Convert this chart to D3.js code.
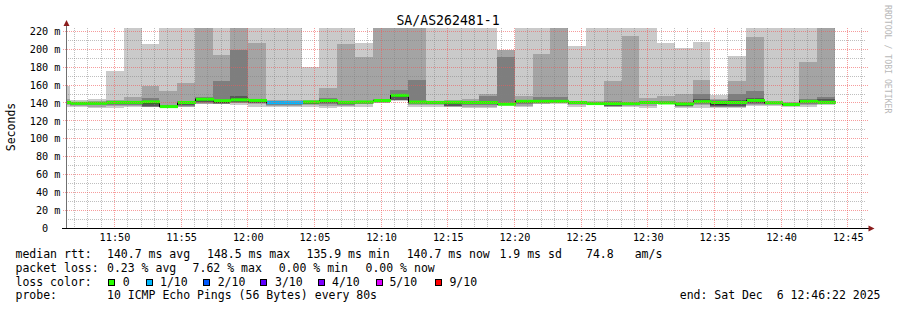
<!DOCTYPE html>
<html>
<head>
<meta charset="utf-8">
<script src="https://cdn.jsdelivr.net/npm/d3@7"></script>
<style>
  body { margin: 0; background: #fff; }
  text { font-family: "DejaVu Sans Mono", monospace; white-space: pre; }
</style>
</head>
<body>
<svg id="chart" width="897" height="310"></svg>
<script>

// ---- data ---------------------------------------------------------------

var title = 'SA/AS262481-1';
var day = '2025-12-06 ';
var viewStart = '11:46:22';
var viewEnd = '12:46:22';
var firstStep = '11:45:22';
var stepSeconds = 80;

// 10 sorted ping rtts (ms) per 80s step; values above the chart are clipped.
var pings = [
  [136.0, 137.5, 138.5, 139.5, 140.0, 140.5, 141.0, 142.0, 144.0, 159.0],
  [135.5, 136.5, 137.5, 138.5, 139.0, 139.6, 140.5, 141.0, 141.5, 143.0],
  [134.7, 136.0, 137.5, 138.5, 139.0, 139.6, 140.5, 141.0, 142.0, 144.4],
  [134.7, 137.0, 138.0, 139.0, 140.0, 140.6, 141.0, 142.0, 143.5, 175.8],
  [135.0, 136.5, 137.5, 138.5, 139.5, 140.6, 141.5, 142.5, 147.0, 262.0],
  [135.0, 135.5, 136.0, 136.5, 138.5, 141.2, 142.0, 145.5, 159.0, 206.0],
  [134.5, 135.0, 135.3, 135.6, 135.9, 136.2, 137.0, 138.0, 153.5, 245.0],
  [135.0, 136.0, 136.6, 137.5, 138.8, 140.5, 141.0, 142.0, 162.5, 250.0],
  [138.5, 139.0, 139.6, 141.0, 142.5, 144.1, 145.0, 147.0, 250.0, 260.0],
  [138.5, 139.0, 139.2, 139.4, 139.8, 142.5, 143.5, 164.8, 193.7, 250.0],
  [138.0, 139.5, 140.0, 141.0, 142.0, 143.5, 147.8, 199.3, 250.0, 262.0],
  [135.0, 138.5, 139.5, 140.0, 140.5, 142.8, 143.5, 144.0, 206.7, 255.0],
  [135.0, 136.5, 137.5, 138.5, 139.5, 140.3, 141.0, 142.0, 143.0, 250.0],
  [135.5, 137.0, 138.0, 138.5, 139.5, 140.3, 141.0, 141.5, 143.5, 252.0],
  [135.8, 137.5, 138.5, 139.0, 139.5, 141.1, 141.5, 142.0, 143.0, 180.0],
  [134.5, 136.5, 138.5, 139.5, 141.0, 142.5, 143.5, 145.0, 156.6, 255.0],
  [135.5, 137.0, 138.0, 139.0, 140.0, 140.7, 141.5, 142.0, 206.0, 258.0],
  [135.5, 138.5, 139.0, 139.5, 140.0, 141.1, 141.5, 142.0, 191.8, 207.2],
  [139.5, 140.0, 140.5, 141.0, 141.5, 142.7, 143.5, 144.0, 250.0, 262.0],
  [142.5, 142.8, 143.0, 143.3, 146.7, 148.5, 149.3, 154.5, 250.0, 262.0],
  [135.8, 137.5, 139.0, 140.0, 140.5, 141.0, 142.0, 165.7, 250.0, 260.0],
  [135.8, 137.5, 138.5, 139.0, 139.5, 140.6, 141.0, 141.5, 142.5, 255.0],
  [135.0, 136.0, 136.6, 137.0, 139.2, 140.7, 141.5, 142.0, 143.3, 258.0],
  [134.7, 136.0, 138.0, 139.0, 139.8, 140.5, 141.0, 141.5, 144.4, 255.0],
  [134.5, 135.5, 137.5, 138.5, 139.5, 140.5, 141.5, 147.8, 150.0, 258.0],
  [137.0, 137.5, 138.0, 138.3, 138.5, 138.6, 139.5, 191.8, 199.3, 199.6],
  [135.5, 137.0, 138.5, 139.5, 140.0, 141.8, 142.5, 143.0, 148.0, 255.0],
  [138.5, 139.0, 139.5, 140.0, 140.5, 141.8, 142.5, 146.5, 194.8, 258.0],
  [139.0, 139.5, 140.0, 140.5, 141.0, 141.8, 142.5, 147.0, 255.0, 262.0],
  [135.5, 137.5, 138.5, 139.0, 139.5, 140.5, 141.0, 141.5, 142.5, 204.0],
  [137.4, 138.0, 138.5, 138.8, 139.0, 139.3, 140.0, 141.0, 142.0, 258.0],
  [135.0, 135.8, 136.2, 136.6, 137.5, 139.3, 140.0, 142.5, 165.0, 255.0],
  [135.5, 137.0, 138.0, 138.5, 139.0, 139.3, 140.0, 141.0, 215.0, 260.0],
  [134.7, 137.0, 138.5, 139.0, 139.5, 140.5, 141.0, 142.0, 146.0, 255.0],
  [138.5, 139.0, 139.3, 139.6, 139.8, 140.0, 141.0, 142.5, 147.8, 206.8],
  [134.7, 135.5, 136.3, 136.8, 137.7, 139.0, 140.0, 141.0, 149.5, 201.0],
  [134.7, 137.5, 139.0, 140.0, 140.8, 141.5, 144.4, 150.0, 166.0, 208.4],
  [134.7, 135.5, 136.0, 136.5, 138.0, 140.5, 141.5, 143.0, 144.4, 148.9],
  [134.7, 135.2, 135.8, 137.0, 138.8, 140.5, 143.3, 150.0, 164.8, 192.6],
  [137.0, 138.0, 139.0, 139.5, 140.5, 142.8, 146.0, 153.5, 213.8, 258.0],
  [137.0, 138.0, 138.5, 139.0, 139.5, 140.2, 140.8, 141.5, 142.5, 255.0],
  [135.5, 136.5, 137.0, 137.5, 138.0, 138.3, 139.0, 139.5, 141.0, 258.0],
  [135.5, 137.5, 138.5, 139.5, 140.5, 141.7, 143.0, 144.4, 186.0, 255.0],
  [138.0, 138.5, 139.0, 139.5, 140.0, 140.7, 144.4, 147.0, 250.0, 262.0]
];

// median rtt (ms) per step
var medians = [
  140.5, 139.6, 139.6, 140.6, 140.6, 141.2, 135.9, 140.5, 144.1, 142.5,
  143.5, 142.8, 140.3, 140.3, 141.1, 142.5, 140.7, 141.1, 142.7, 148.5,
  141.0, 140.6, 140.7, 140.5, 140.5, 138.6, 141.8, 141.8, 141.8, 140.5,
  139.3, 139.3, 139.3, 140.5, 140.0, 139.0, 141.5, 140.5, 140.5, 142.8,
  140.2, 138.3, 141.7, 140.7
];

// pings lost out of 10 per step
var lost = [
  0, 0, 0, 0, 0, 0, 0, 0, 0, 0,
  0, 0, 1, 1, 0, 0, 0, 0, 0, 0,
  0, 0, 0, 0, 0, 0, 0, 0, 0, 0,
  0, 0, 0, 0, 0, 0, 0, 0, 0, 0,
  0, 0, 0, 0
];

var yTicks = [0, 20, 40, 60, 80, 100, 120, 140, 160, 180, 200, 220];
var yMax = 223.9;

var lossLevels = [0, 1, 2, 3, 4, 5, 9];
var lossLabels = ['0', '1/10', '2/10', '3/10', '4/10', '5/10', '9/10'];

var rttStats = ['140.7 ms avg', '148.5 ms max', '135.9 ms min',
  '140.7 ms now', '1.9 ms sd', '74.8', 'am/s'];
var lossStats = ['0.23 % avg', '7.62 % max', '0.00 % min', '0.00 % now'];
var probeText = '10 ICMP Echo Pings (56 Bytes) every 80s';
var endText = 'end: Sat Dec  6 12:46:22 2025';

// ---- styles / layout ----------------------------------------------------

var lossColors = ['#26ff00', '#00b8ff', '#0059ff', '#5e00ff', '#7e00ff',
  '#dd00ff', '#ff0000'];
var smokeColors = ['#cacaca', '#a4a4a4', '#7e7e7e', '#585858', '#323232'];
var arrowColor = '#8b1c1c';
var minorGrid = 'rgba(128,128,128,0.5)';
var majorGrid = 'rgba(240,90,90,0.6)';

var rttCols = [107, 207, 306.5, 406.7, 499.5, 586, 634.7];
var lossCols = [107, 192.6, 278.7, 365.5];
var boxCols = [108.5, 146.5, 203.5, 260.5, 318.5, 376.5, 435.5];
var lossLabelCols = [122.7, 160, 217.7, 275, 332, 389.4, 449.4];
var rows = [258.3, 272, 285.7, 299.4];

// ---- scales -------------------------------------------------------------

var parse = d3.timeParse('%Y-%m-%d %H:%M:%S');
var t0 = parse(day + viewStart);
var t1 = parse(day + viewEnd);
var start = parse(day + firstStep);

var x = d3.scaleTime().domain([t0, t1]).range([66, 866]);
var y = d3.scaleLinear().domain([0, yMax]).range([228, 28]);

var stepTime = function(i) {
  return d3.timeSecond.offset(start, i * stepSeconds);
};

// Snap a coordinate to the middle of a pixel.
var crisp = function(v) { return Math.floor(v) + 0.5; };

var lossColor = function(n) {
  var c = 0;
  lossLevels.forEach(function(l, i) { if (n >= l) c = i; });
  return lossColors[c];
};

var svg = d3.select('#chart');
svg.append('rect').attr('width', 897).attr('height', 310).attr('fill', '#fff');

svg.append('clipPath').attr('id', 'plot')
  .append('rect').attr('x', 66).attr('y', 28).attr('width', 800)
  .attr('height', 200);

var plot = svg.append('g').attr('clip-path', 'url(#plot)');

// ---- smoke --------------------------------------------------------------

pings.forEach(function(p, i) {
  var xa = Math.round(x(stepTime(i)));
  var xb = Math.round(x(stepTime(i + 1)));
  smokeColors.forEach(function(col, j) {
    var ya = Math.round(y(p[9 - j]));
    var yb = Math.round(y(p[j]));
    plot.append('rect')
      .attr('x', xa)
      .attr('width', xb - xa)
      .attr('y', ya)
      .attr('height', Math.max(0, yb - ya))
      .attr('fill', col);
  });
});

// ---- grid ---------------------------------------------------------------

var grid = svg.append('g').attr('stroke-dasharray', '1,1');

var minutes = d3.timeMinute.range(d3.timeMinute.ceil(t0), t1);
var isMajor = function(d) { return d.getMinutes() % 5 === 0; };
var levels = d3.range(10, yMax, 10);

// minor lines first, major lines on top
[false, true].forEach(function(major) {
  minutes.filter(function(d) { return isMajor(d) === major; })
    .forEach(function(d) {
      grid.append('line')
        .attr('x1', crisp(x(d))).attr('x2', crisp(x(d)))
        .attr('y1', 28).attr('y2', 228)
        .attr('stroke', major ? majorGrid : minorGrid);
    });
  levels.filter(function(v) { return (v % 20 === 0) === major; })
    .forEach(function(v) {
      grid.append('line')
        .attr('x1', major ? 63 : 66).attr('x2', major ? 868 : 866)
        .attr('y1', crisp(y(v))).attr('y2', crisp(y(v)))
        .attr('stroke', major ? majorGrid : minorGrid);
    });
});

// ---- median -------------------------------------------------------------

var steps = medians.map(function(m, i) { return [stepTime(i), m]; });
steps.push([stepTime(medians.length), medians[medians.length - 1]]);

plot.append('path')
  .datum(steps)
  .attr('d', d3.line()
    .x(function(d) { return Math.round(x(d[0])) + 0.5; })
    .y(function(d) { return y(d[1]); })
    .curve(d3.curveStepAfter))
  .attr('fill', 'none')
  .attr('stroke', '#000')
  .attr('stroke-width', 1);

plot.selectAll('.med').data(medians).enter().append('line')
  .attr('x1', function(d, i) { return Math.round(x(stepTime(i))) + 1; })
  .attr('x2', function(d, i) { return Math.round(x(stepTime(i + 1))) + 1; })
  .attr('y1', function(d) { return y(d); })
  .attr('y2', function(d) { return y(d); })
  .attr('stroke', function(d, i) { return lossColor(lost[i]); })
  .attr('stroke-width', 3);

// ---- axes ---------------------------------------------------------------

var xAxis = svg.append('g')
  .attr('transform', 'translate(0,228)')
  .call(d3.axisBottom(x)
    .ticks(d3.timeMinute.every(5))
    .tickFormat(d3.timeFormat('%H:%M'))
    .tickSize(0)
    .tickPadding(6));

var yAxis = svg.append('g')
  .attr('transform', 'translate(66.5,0)')
  .call(d3.axisLeft(y)
    .tickValues(yTicks)
    .tickSize(0)
    .tickPadding(6)
    .tickFormat(function(d) {
      return d === 0 ? '0\u00a0\u00a0' : d + '\u00a0m';
    }));

[xAxis, yAxis].forEach(function(a) {
  a.select('.domain').remove();
  a.attr('font-family', null).attr('font-size', null);
  a.selectAll('text')
    .attr('fill', '#000')
    .style('font-size', '10.2px');
});

svg.append('line')
  .attr('x1', 66.5).attr('x2', 66.5).attr('y1', 228).attr('y2', 24)
  .attr('stroke', '#707070');
svg.append('line')
  .attr('x1', 62).attr('x2', 869).attr('y1', 228.5).attr('y2', 228.5)
  .attr('stroke', '#000');

svg.append('path')
  .attr('d', 'M63.5,26L69.5,26L66.5,20Z')
  .attr('fill', arrowColor);
svg.append('path')
  .attr('d', 'M868.5,225.5L868.5,231.5L874.5,228.5Z')
  .attr('fill', arrowColor);

// ---- labels -------------------------------------------------------------

svg.append('text')
  .attr('x', 448).attr('y', 24.5)
  .attr('text-anchor', 'middle')
  .style('font-size', '13.2px')
  .text(title);

svg.append('text')
  .attr('transform', 'translate(15,127) rotate(-90)')
  .attr('text-anchor', 'middle')
  .style('font-size', '11.5px')
  .text('Seconds');

svg.append('text')
  .attr('transform', 'translate(885,5) rotate(90)')
  .attr('fill', '#b8b8b8')
  .style('font-size', '8.2px')
  .text('RRDTOOL / TOBI OETIKER');

// ---- legend -------------------------------------------------------------

var legend = svg.append('g').style('font-size', '11.5px');

var line = function(xp, yp, s, anchor) {
  legend.append('text')
    .attr('x', xp).attr('y', yp)
    .attr('text-anchor', anchor || 'start')
    .text(s);
};

line(15.5, rows[0], 'median rtt:');
rttStats.forEach(function(s, i) { line(rttCols[i], rows[0], s); });

line(15.5, rows[1], 'packet loss:');
lossStats.forEach(function(s, i) { line(lossCols[i], rows[1], s); });

line(15.5, rows[2], 'loss color:');
lossLabels.forEach(function(s, i) {
  legend.append('rect')
    .attr('x', boxCols[i]).attr('y', 279.5)
    .attr('width', 6).attr('height', 6)
    .attr('fill', lossColors[i])
    .attr('stroke', '#000');
  line(lossLabelCols[i], rows[2], s);
});

line(15.5, rows[3], 'probe:');
line(107, rows[3], probeText);
line(880.5, rows[3], endText, 'end');

</script>
</body>
</html>
